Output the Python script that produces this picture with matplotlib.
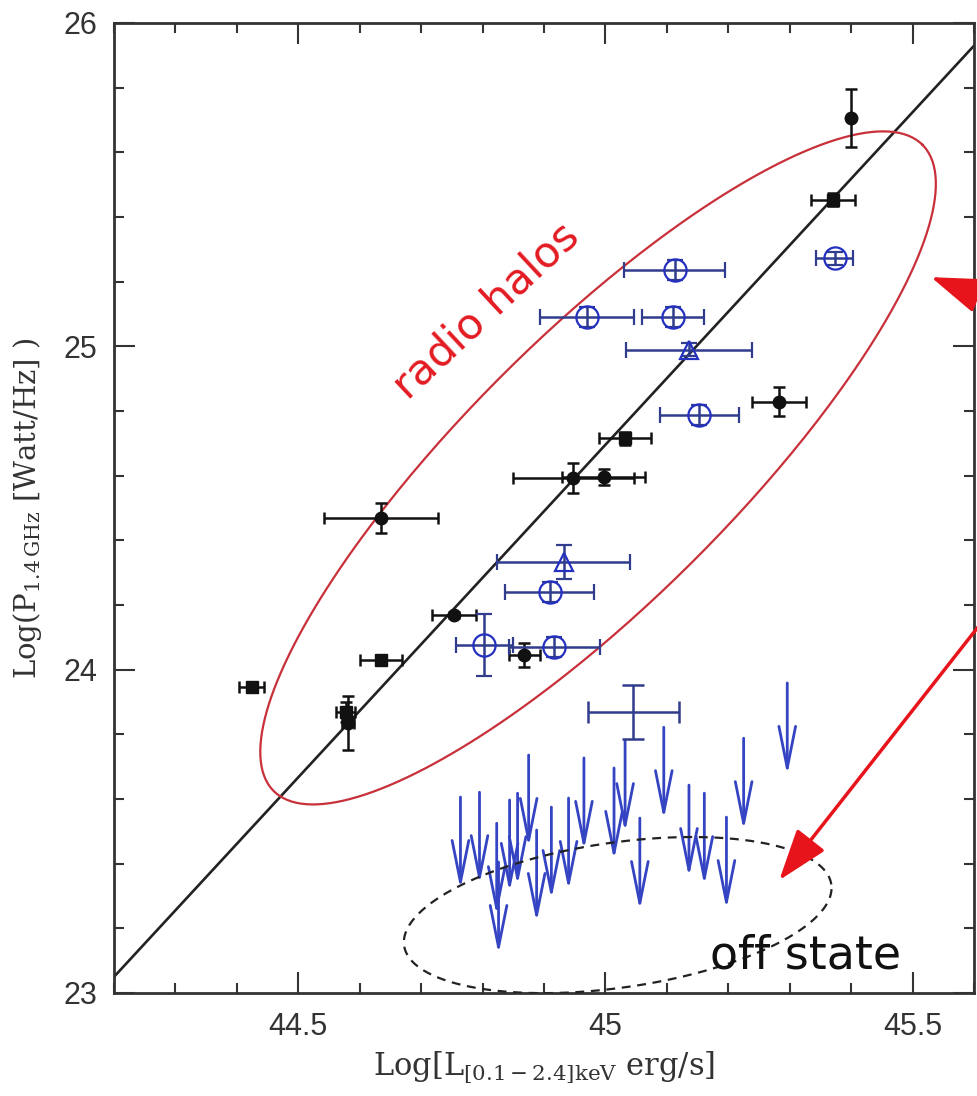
import numpy as np
import matplotlib
matplotlib.use('Agg')
import matplotlib.pyplot as plt
from matplotlib.ticker import MultipleLocator, FixedLocator, FixedFormatter

plt.rcParams['mathtext.fontset'] = 'dejavuserif'

# radio halo clusters, black filled circles
blk_circ_x = [45.399, 45.282, 44.948, 44.997, 44.635, 44.754, 44.868, 44.581]
blk_circ_y = [25.706, 24.828, 24.593, 24.596, 24.469, 24.169, 24.045, 23.835]
blk_circ_xerr = [0.0, 0.044, 0.098, 0.067, 0.093, 0.036, 0.025, 0.010]
blk_circ_yerr = [0.090, 0.045, 0.046, 0.025, 0.046, 0.010, 0.037, 0.083]

# black filled squares
blk_sq_x = [45.370, 45.032, 44.635, 44.424, 44.577]
blk_sq_y = [25.453, 24.716, 24.030, 23.946, 23.869]
blk_sq_xerr = [0.036, 0.042, 0.034, 0.020, 0.015]
blk_sq_yerr = [0.020, 0.020, 0.015, 0.015, 0.030]

# new halos, blue open circles
blu_circ_x = [45.113, 44.970, 45.110, 45.153, 45.373, 44.909, 44.803, 44.917]
blu_circ_y = [25.236, 25.091, 25.091, 24.788, 25.273, 24.240, 24.076, 24.070]
blu_circ_xerr = [0.082, 0.077, 0.050, 0.064, 0.030, 0.072, 0.046, 0.074]
blu_circ_yerr = [0.030, 0.030, 0.030, 0.030, 0.020, 0.030, 0.096, 0.030]

# blue open triangles
blu_tri_x = [45.136, 44.932]
blu_tri_y = [24.989, 24.333]
blu_tri_xerr = [0.103, 0.108]
blu_tri_yerr = [0.020, 0.053]

# blue error cross with no marker
blu_cross_x = [45.045]
blu_cross_y = [23.869]
blu_cross_xerr = [0.074]
blu_cross_yerr = [0.084]

# upper limits (off state)
ul_x = [44.764, 44.795, 44.823, 44.826, 44.844, 44.857, 44.875, 44.888, 44.912,
        44.940, 44.965, 45.014, 45.032, 45.056, 45.095, 45.136, 45.161, 45.197,
        45.225, 45.296]
ul_y = [23.606, 23.621, 23.525, 23.405, 23.597, 23.618, 23.736, 23.504, 23.575,
        23.603, 23.727, 23.696, 23.782, 23.541, 23.822, 23.643, 23.618, 23.544,
        23.788, 23.959]

# best fit correlation
fit_x0, fit_y0, fit_slope = 44.2, 23.05, 2.057

xlim = (44.2, 45.6)
ylim = (23, 26)
xticks = [44.5, 45.0, 45.5]
xtick_labels = ['44.5', '45', '45.5']
yticks = [23, 24, 25, 26]
ytick_labels = ['23', '24', '25', '26']

fig = plt.figure(figsize=(9.77, 10.96), dpi=100)
ax = fig.add_axes([114 / 977, 103 / 1096, 860 / 977, 970 / 1096])

# correlation line
xx = np.array(xlim)
ax.plot(xx, fit_y0 + fit_slope * (xx - fit_x0), color='#222222', lw=1.9, zorder=2)

blk = '#111111'
ax.errorbar(blk_circ_x, blk_circ_y, xerr=blk_circ_xerr, yerr=blk_circ_yerr,
            fmt='o', color=blk, ms=9, capsize=4, elinewidth=1.8, capthick=1.8, zorder=4)
ax.errorbar(blk_sq_x, blk_sq_y, xerr=blk_sq_xerr, yerr=blk_sq_yerr,
            fmt='s', color=blk, ms=8.5, capsize=4, elinewidth=1.8, capthick=1.8, zorder=4)

blu_bar = '#303c8c'
blu_mk = '#2430c0'
ax.errorbar(blu_circ_x, blu_circ_y, xerr=blu_circ_xerr, yerr=blu_circ_yerr,
            fmt='o', ms=16, mfc='none', mec=blu_mk, mew=1.6, ecolor=blu_bar,
            capsize=6, elinewidth=1.8, capthick=1.8, zorder=4)
ax.errorbar(blu_tri_x, blu_tri_y, xerr=blu_tri_xerr, yerr=blu_tri_yerr,
            fmt='^', ms=13, mfc='none', mec=blu_mk, mew=1.6, ecolor=blu_bar,
            capsize=6, elinewidth=1.8, capthick=1.8, zorder=4)
ax.errorbar(blu_cross_x, blu_cross_y, xerr=blu_cross_xerr, yerr=blu_cross_yerr,
            fmt='none', ecolor=blu_bar, capsize=8, elinewidth=1.8, capthick=1.8, zorder=4)

# upper limit arrows
arrow_len = 0.285
for x, y in zip(ul_x, ul_y):
    ax.annotate('', xy=(x, y - arrow_len), xytext=(x, y),
                arrowprops=dict(arrowstyle='->,head_length=1.5,head_width=0.3',
                                mutation_scale=20, lw=2.0, color='#3444c2',
                                shrinkA=0, shrinkB=0),
                zorder=3)

# red "radio halos" ellipse (conjugate semi-diameters in data units)
t = np.linspace(0, 2 * np.pi, 400)
ex = 44.988 + 0.528 * np.cos(t) - 0.1536 * np.sin(t)
ey = 24.624 + 0.9994 * np.cos(t) + 0.2908 * np.sin(t)
ax.plot(ex, ey, color='#c8303a', lw=1.6, zorder=3)
ax.text(44.806, 25.109, 'radio halos', color='#e31b23', fontsize=31,
        rotation=43, ha='center', va='center', family='DejaVu Sans')

# dashed "off state" ellipse
dx = 45.020 + 0.3477 * np.cos(t) - 0.0169 * np.sin(t)
dy = 23.241 + 0.0948 * np.cos(t) + 0.2220 * np.sin(t)
ax.plot(dx, dy, color='#222222', lw=1.6, ls=(0, (4, 3)), zorder=3)
ax.text(45.326, 23.077, 'off state', color='#111111', fontsize=33,
        ha='center', va='baseline', family='DejaVu Sans')

# red arrows coming from outside the frame
red_kw = dict(arrowstyle='-|>,head_length=1.6,head_width=0.55', mutation_scale=20,
              lw=2.5, color='#e8141c', shrinkA=0, shrinkB=0)
ax.annotate('', xy=(45.530, 25.214), xytext=(45.664, 25.115),
            arrowprops=red_kw, annotation_clip=False, zorder=5)
ax.annotate('', xy=(45.283, 23.349), xytext=(45.664, 24.271),
            arrowprops=red_kw, annotation_clip=False, zorder=5)

ax.set_xlim(*xlim)
ax.set_ylim(*ylim)
ax.xaxis.set_major_locator(FixedLocator(xticks))
ax.xaxis.set_major_formatter(FixedFormatter(xtick_labels))
ax.xaxis.set_minor_locator(MultipleLocator(0.1))
ax.yaxis.set_major_locator(FixedLocator(yticks))
ax.yaxis.set_major_formatter(FixedFormatter(ytick_labels))
ax.yaxis.set_minor_locator(MultipleLocator(0.2))
ax.tick_params(which='both', direction='in', top=True, right=True,
               color='#333333', width=1.5)
ax.tick_params(which='major', length=15)
ax.tick_params(which='minor', length=7.5)
ax.tick_params(axis='x', which='major', pad=14, labelsize=22, labelcolor='#333333')
ax.tick_params(axis='y', which='major', pad=12, labelsize=22, labelcolor='#333333')
for lab in ax.get_xticklabels() + ax.get_yticklabels():
    lab.set_family('Liberation Sans')
for sp in ax.spines.values():
    sp.set_linewidth(2)
    sp.set_color('#333333')

ax.text(0.5, -0.077, r'Log[L$_{\rm [0.1-2.4]keV}$ erg/s]', transform=ax.transAxes,
        ha='center', va='center', fontsize=22, family='DejaVu Serif', color='#333333')
ax.text(-0.1, 0.5, r'Log(P$_{\rm 1.4\,GHz}$ [Watt/Hz] )', transform=ax.transAxes,
        rotation=90, ha='center', va='center', fontsize=21, family='DejaVu Serif',
        color='#333333')

fig.savefig('out.png', dpi=100)
